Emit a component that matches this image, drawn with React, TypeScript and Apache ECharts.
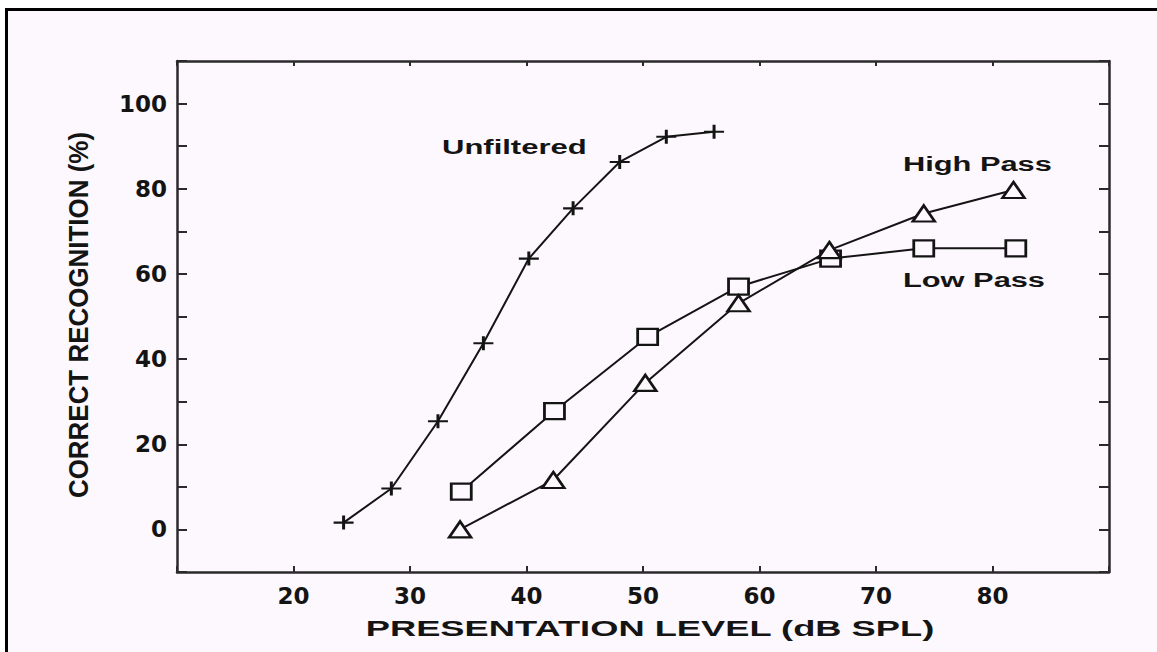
import React, { useEffect, useRef } from 'react';
import * as echarts from 'echarts';

// Presentation level (dB SPL) and correct recognition (%)
const xUnfiltered = [24.3, 28.4, 32.4, 36.3, 40.2, 44.0, 48.0, 52.0, 56.1];
const yUnfiltered = [1.6, 9.6, 25.4, 43.7, 63.6, 75.4, 86.3, 92.2, 93.4];

const xLowPass = [34.4, 42.4, 50.4, 58.2, 66.1, 74.1, 82.0];
const yLowPass = [8.9, 27.8, 45.2, 57.0, 63.6, 66.0, 66.0];

const xHighPass = [34.3, 42.3, 50.2, 58.2, 66.0, 74.1, 81.8];
const yHighPass = [0.0, 11.6, 34.4, 53.1, 65.6, 74.2, 79.7];

const xTickLabels = [20, 30, 40, 50, 60, 70, 80];
const yTickLabels = [0, 20, 40, 60, 80, 100];

const seriesNames = ['Unfiltered', 'Low Pass', 'High Pass'];

const BG = '#fdf8fd';
const INK = '#141414';
const AXIS = '#2a2a2a';
const labelFamily = '"Liberation Sans", Arial, Helvetica, sans-serif';

function pairs(xs: number[], ys: number[]) {
  return xs.map((x, i) => [x, ys[i]]);
}

export default function App() {
  const ref = useRef<HTMLDivElement>(null);

  useEffect(() => {
    const chart = echarts.init(ref.current as HTMLDivElement, null, { renderer: 'svg' });

    const tickFont = {
      fontFamily: '"DejaVu Sans", sans-serif',
      fontWeight: 'bold' as const,
      fontSize: 23,
      color: INK,
    };

    const option = {
      animation: false,
      backgroundColor: BG,
      grid: { left: 177, right: 48, top: 61, bottom: 80, containLabel: false },
      xAxis: [
        {
          type: 'value',
          position: 'bottom',
          min: 10,
          max: 90,
          interval: 10,
          axisLine: { show: true, onZero: false, lineStyle: { color: AXIS, width: 2.5 } },
          axisTick: { show: true, inside: true, length: 6, lineStyle: { color: AXIS, width: 2 } },
          axisLabel: {
            ...tickFont,
            margin: 12,
            formatter: (v: number) => (xTickLabels.includes(v) ? String(v) : ''),
          },
          splitLine: { show: false },
        },
        {
          type: 'value',
          position: 'top',
          min: 10,
          max: 90,
          interval: 10,
          axisLine: { show: true, onZero: false, lineStyle: { color: AXIS, width: 2.5 } },
          axisTick: { show: true, inside: true, length: 5, lineStyle: { color: AXIS, width: 2 } },
          axisLabel: { show: false },
          splitLine: { show: false },
        },
      ],
      yAxis: [
        {
          type: 'value',
          position: 'left',
          min: -10,
          max: 110,
          interval: 10,
          axisLine: { show: true, onZero: false, lineStyle: { color: AXIS, width: 2.5 } },
          axisTick: { show: true, inside: true, length: 10, lineStyle: { color: AXIS, width: 2 } },
          axisLabel: {
            ...tickFont,
            margin: 10,
            formatter: (v: number) => (yTickLabels.includes(v) ? String(v) : ''),
          },
          splitLine: { show: false },
        },
        {
          type: 'value',
          position: 'right',
          min: -10,
          max: 110,
          interval: 10,
          axisLine: { show: true, onZero: false, lineStyle: { color: AXIS, width: 2.5 } },
          axisTick: { show: true, inside: true, length: 10, lineStyle: { color: AXIS, width: 2 } },
          axisLabel: { show: false },
          splitLine: { show: false },
        },
      ],
      series: [
        {
          name: seriesNames[0],
          type: 'line',
          data: pairs(xUnfiltered, yUnfiltered),
          symbol: 'path://M0,7H20M10,0V14',
          symbolSize: [20, 14],
          showAllSymbol: true,
          lineStyle: { color: INK, width: 2 },
          itemStyle: { color: INK, borderColor: INK, borderWidth: 2.5 },
          z: 3,
        },
        {
          name: seriesNames[1],
          type: 'line',
          data: pairs(xLowPass, yLowPass),
          symbol: 'rect',
          symbolSize: [20, 16],
          showAllSymbol: true,
          lineStyle: { color: INK, width: 2 },
          itemStyle: { color: BG, borderColor: INK, borderWidth: 2.5 },
          z: 3,
        },
        {
          name: seriesNames[2],
          type: 'line',
          data: pairs(xHighPass, yHighPass),
          symbol: 'triangle',
          symbolSize: [22, 16],
          showAllSymbol: true,
          lineStyle: { color: INK, width: 2 },
          itemStyle: { color: BG, borderColor: INK, borderWidth: 2.5 },
          z: 4,
        },
      ],
      graphic: [
        { type: 'rect', shape: { x: 0, y: 0, width: 1157, height: 8 }, style: { fill: '#ffffff' }, silent: true },
        { type: 'rect', shape: { x: 0, y: 0, width: 5, height: 652 }, style: { fill: '#ffffff' }, silent: true },
        { type: 'rect', shape: { x: 5, y: 8, width: 1152, height: 3 }, style: { fill: '#000000' }, silent: true },
        { type: 'rect', shape: { x: 5, y: 8, width: 3, height: 644 }, style: { fill: '#000000' }, silent: true },
        {
          type: 'text',
          x: 442,
          y: 147,
          scaleX: 1.55,
          style: {
            text: seriesNames[0],
            fill: INK,
            fontSize: 20,
            fontWeight: 'bold',
            fontFamily: labelFamily,
            align: 'left',
            verticalAlign: 'middle',
          },
        },
        {
          type: 'text',
          x: 903,
          y: 164,
          scaleX: 1.54,
          style: {
            text: seriesNames[2],
            fill: INK,
            fontSize: 20,
            fontWeight: 'bold',
            fontFamily: labelFamily,
            align: 'left',
            verticalAlign: 'middle',
          },
        },
        {
          type: 'text',
          x: 903,
          y: 280,
          scaleX: 1.54,
          style: {
            text: seriesNames[1],
            fill: INK,
            fontSize: 20,
            fontWeight: 'bold',
            fontFamily: labelFamily,
            align: 'left',
            verticalAlign: 'middle',
          },
        },
        {
          type: 'text',
          x: 650,
          y: 628,
          scaleX: 1.65,
          style: {
            text: 'PRESENTATION LEVEL (dB SPL)',
            fill: INK,
            fontSize: 22,
            fontWeight: 'bold',
            fontFamily: labelFamily,
            align: 'center',
            verticalAlign: 'middle',
          },
        },
        {
          type: 'text',
          x: 79,
          y: 315,
          rotation: Math.PI / 2,
          scaleX: 1.18,
          scaleY: 1.27,
          style: {
            text: 'CORRECT RECOGNITION (%)',
            fill: INK,
            fontSize: 22,
            fontWeight: 'bold',
            fontFamily: labelFamily,
            align: 'center',
            verticalAlign: 'middle',
          },
        },
      ],
    };

    chart.setOption(option as any);
    return () => chart.dispose();
  }, []);

  return (
    <div style={{ position: 'fixed', left: 0, top: 0, width: 1157, height: 652 }}>
      <div ref={ref} style={{ width: 1157, height: 652 }} />
    </div>
  );
}
